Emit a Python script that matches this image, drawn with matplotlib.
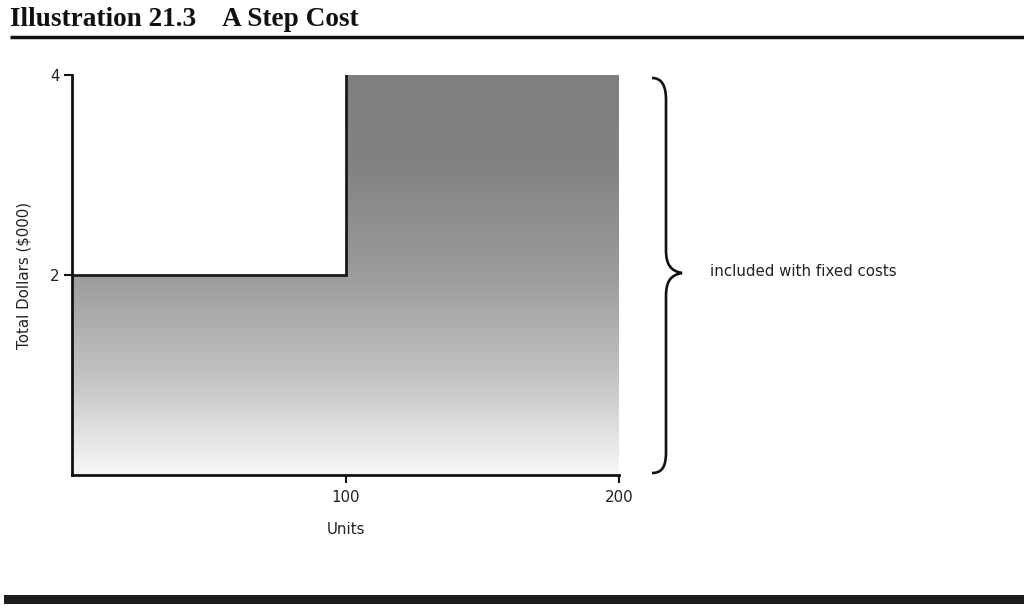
import numpy as np
import matplotlib
matplotlib.use("Agg")
import matplotlib.pyplot as plt
from matplotlib.colors import LinearSegmentedColormap
from matplotlib.path import Path
from matplotlib.patches import PathPatch

plt.rcParams['font.family'] = ['DejaVu Sans']

# Data
units = [0, 100, 200]
cost_steps = [2, 4]          # $000 for each step
x_ticks = [100, 200]
y_ticks = [2, 4]
title = "Illustration 21.3    A Step Cost"
xlabel = "Units"
ylabel = "Total Dollars ($000)"
brace_label = "included with fixed costs"

W, H, DPI = 1024, 611, 100
fig = plt.figure(figsize=(W / DPI, H / DPI), dpi=DPI)
fig.patch.set_facecolor("white")

def px(x0, y0, x1, y1):
    return [x0 / W, 1 - y1 / H, (x1 - x0) / W, (y1 - y0) / H]

ax = fig.add_axes(px(72, 75, 619, 475))
ax.set_xlim(0, 200)
ax.set_ylim(0, 4)

# step polygon
xs = [units[0], units[0], units[1], units[1], units[2], units[2]]
ys = [0, cost_steps[0], cost_steps[0], cost_steps[1], cost_steps[1], 0]
poly_verts = list(zip(xs, ys))
clip = PathPatch(Path(poly_verts + [poly_verts[0]], closed=True), facecolor="none", edgecolor="none")
ax.add_patch(clip)

cmap = LinearSegmentedColormap.from_list(
    "g", [(0.0, (0.97, 0.97, 0.97)), (0.25, (0.76, 0.76, 0.76)), (0.5, (0.61, 0.61, 0.61)),
          (0.78, (0.51, 0.51, 0.51)), (1.0, (0.50, 0.50, 0.50))])
grad = np.linspace(0, 1, 256).reshape(-1, 1)
im = ax.imshow(grad, extent=[0, 200, 0, 4], origin="lower", aspect="auto", cmap=cmap, vmin=0, vmax=1, zorder=1)
im.set_clip_path(clip)

# step line
ax.plot([units[0], units[1], units[1]], [cost_steps[0], cost_steps[0], cost_steps[1]],
        color="#1a1a1a", lw=2, zorder=3, solid_joinstyle="miter")

for s in ["top", "right"]:
    ax.spines[s].set_visible(False)
for s in ["left", "bottom"]:
    ax.spines[s].set_linewidth(2)
    ax.spines[s].set_color("#111111")
    ax.spines[s].set_zorder(4)

ax.set_xticks(x_ticks)
ax.set_yticks(y_ticks)
ax.tick_params(axis="both", direction="out", length=6, width=1.5, colors="#111111",
               labelsize=10.8, labelcolor="#222222", pad=3)
ax.tick_params(axis="x", pad=5)
ax.set_xlabel(xlabel, fontsize=10.8, color="#222222", labelpad=12)
ax.set_ylabel(ylabel, fontsize=10.8, color="#222222", labelpad=13)

# overlay in pixel coords
ov = fig.add_axes([0, 0, 1, 1], zorder=5)
ov.set_xlim(0, W)
ov.set_ylim(H, 0)
ov.axis("off")
ov.patch.set_alpha(0)

ov.text(10, 19, title, fontsize=19.6, fontweight="bold", family="Liberation Serif",
        va="center", ha="left", color="#111111")
ov.plot([10, W], [37, 37], color="#111111", lw=2.5, solid_capstyle="butt")
ov.add_patch(plt.Rectangle((4, 595), W, 9, color="#1c1c1c", lw=0))

verts = [(652, 78), (662, 78), (666, 86), (666, 100),
         (666, 250),
         (666, 265), (671, 271), (682, 273),
         (671, 275), (666, 281), (666, 296),
         (666, 452),
         (666, 467), (662, 473), (652, 473)]
codes = [Path.MOVETO, Path.CURVE4, Path.CURVE4, Path.CURVE4,
         Path.LINETO,
         Path.CURVE4, Path.CURVE4, Path.CURVE4,
         Path.CURVE4, Path.CURVE4, Path.CURVE4,
         Path.LINETO,
         Path.CURVE4, Path.CURVE4, Path.CURVE4]
ov.add_patch(PathPatch(Path(verts, codes), facecolor="none", edgecolor="#111111", lw=1.9))
ov.text(710, 272, brace_label, fontsize=10.8, color="#222222", va="center", ha="left")

fig.savefig("out.png", dpi=DPI, facecolor="white")
